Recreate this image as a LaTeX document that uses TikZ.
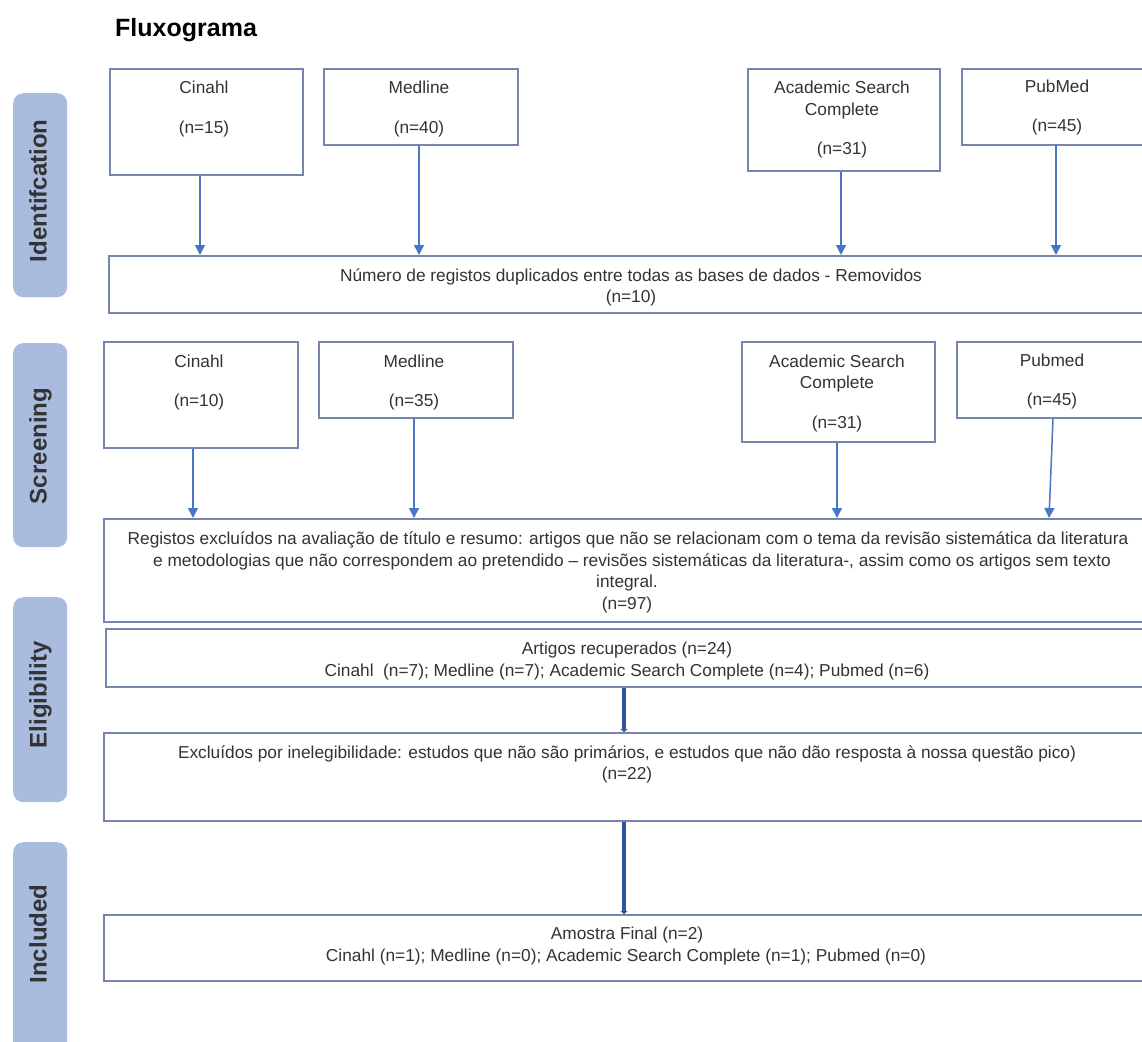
\documentclass[tikz,border=0pt]{standalone}
\usepackage{fontspec}
\setmainfont{Liberation Sans}
\usetikzlibrary{arrows.meta}
\definecolor{bordc}{HTML}{7585AD}
\definecolor{arrc}{HTML}{4A76C6}
\definecolor{thickc}{HTML}{2F5597}
\definecolor{sidec}{HTML}{A9BCE0}
\definecolor{txtc}{HTML}{333333}
\tikzset{
  box/.style={draw=bordc, line width=1.6pt, anchor=north west, inner sep=0pt, fill=white},
  lbl/.style={text=txtc, font=\fontsize{17.3}{20}\selectfont, inner sep=0pt, text height=12.4pt, text depth=0pt},
  side/.style={fill=sidec, rounded corners=10pt, draw=none, anchor=north west, inner sep=0pt, minimum width=54pt},
  sidetxt/.style={rotate=90, font=\bfseries\fontsize{24}{26}\selectfont, text=txtc, inner sep=0pt, text height=17.2pt, text depth=0pt},
  arr/.style={draw=arrc, line width=1.5pt, -{Triangle[width=10pt,length=10pt]}},
  bigarr/.style={draw=thickc, line width=4pt, -{Triangle[width=7pt,length=3pt]}}
}
\begin{document}
\begin{tikzpicture}[x=1pt,y=-1pt]
\useasboundingbox (0,0) rectangle (1142,1041);
\clip (0,0) rectangle (1142,1041);
\fill[white] (0,0) rectangle (1142,1041);

% title
\node[text=black, font=\bfseries\fontsize{25}{28}\selectfont, anchor=base west, inner sep=0pt] (title) at (115,37) {Fluxograma};

% side bars
\node[side, minimum height=204pt] (sI) at (13,93) {};
\node[side, minimum height=204pt] (sS) at (13,343) {};
\node[side, minimum height=205pt] (sE) at (13,597) {};
\node[side, minimum height=230pt] (sN) at (13,842) {};
\node[sidetxt] (tI) at (38,191) {Identifcation};
\node[sidetxt] (tS) at (38,446) {Screening};
\node[sidetxt] (tE) at (38,695) {Eligibility};
\node[sidetxt] (tN) at (38,934) {Included};

% identification row
\node[box, minimum width=193pt, minimum height=106pt] (c1) at (109,68) {};
\node[box, minimum width=194pt, minimum height=76pt] (m1) at (323,68) {};
\node[box, minimum width=192pt, minimum height=102pt] (a1) at (747,68) {};
\node[box, minimum width=250pt, minimum height=76pt] (p1) at (961,68) {};
\node[box, minimum width=1060pt, minimum height=57pt] (dup) at (108,255) {};

\node[lbl] (c1t) at (204,87) {Cinahl};
\node[lbl] (c1n) at (204,127) {(n=15)};
\node[lbl] (m1t) at (419,87) {Medline};
\node[lbl] (m1n) at (419,127) {(n=40)};
\node[lbl] (a1t) at (842,87) {Academic Search};
\node[lbl] (a1u) at (842,109) {Complete};
\node[lbl] (a1n) at (842,148) {(n=31)};
\node[lbl] (p1t) at (1057,86) {PubMed};
\node[lbl] (p1n) at (1057,125) {(n=45)};
\node[lbl] (dupt) at (631,275) {Número de registos duplicados entre todas as bases de dados - Removidos};
\node[lbl] (dupn) at (631,296) {(n=10)};

\coordinate (xc1) at (200,0);
\coordinate (xm1) at (419,0);
\coordinate (xa1) at (841,0);
\coordinate (xp1) at (1056,0);
\draw[arr] (c1.south -| xc1) -- (dup.north -| xc1);
\draw[arr] (m1.south -| xm1) -- (dup.north -| xm1);
\draw[arr] (a1.south -| xa1) -- (dup.north -| xa1);
\draw[arr] (p1.south -| xp1) -- (dup.north -| xp1);

% screening row
\node[box, minimum width=194pt, minimum height=106pt] (c2) at (103,341) {};
\node[box, minimum width=194pt, minimum height=76pt] (m2) at (318,341) {};
\node[box, minimum width=193pt, minimum height=100pt] (a2) at (741,341) {};
\node[box, minimum width=250pt, minimum height=76pt] (p2) at (956,341) {};
\node[box, minimum width=1065pt, minimum height=103pt] (reg) at (103,518) {};

\node[lbl] (c2t) at (199,361) {Cinahl};
\node[lbl] (c2n) at (199,400) {(n=10)};
\node[lbl] (m2t) at (414,361) {Medline};
\node[lbl] (m2n) at (414,400) {(n=35)};
\node[lbl] (a2t) at (837,361) {Academic Search};
\node[lbl] (a2u) at (837,382) {Complete};
\node[lbl] (a2n) at (837,422) {(n=31)};
\node[lbl] (p2t) at (1052,360) {Pubmed};
\node[lbl] (p2n) at (1052,399) {(n=45)};
\node[lbl] (reg1) at (628,538) {Registos excluídos na avaliação de título e resumo: artigos que não se relacionam com o tema da revisão sistemática da literatura};
\node[lbl] (reg2) at (632,560) {e metodologias que não correspondem ao pretendido – revisões sistemáticas da literatura-, assim como os artigos sem texto};
\node[lbl] (reg3) at (627,581) {integral.};
\node[lbl] (reg4) at (627,603) {(n=97)};

\coordinate (xc2) at (193,0);
\coordinate (xm2) at (414,0);
\coordinate (xa2) at (837,0);
\coordinate (xp2a) at (1053,0);
\coordinate (xp2b) at (1049,0);
\draw[arr] (c2.south -| xc2) -- (reg.north -| xc2);
\draw[arr] (m2.south -| xm2) -- (reg.north -| xm2);
\draw[arr] (a2.south -| xa2) -- (reg.north -| xa2);
\draw[arr] (p2.south -| xp2a) -- (reg.north -| xp2b);

% eligibility
\node[box, minimum width=1060pt, minimum height=58pt] (art) at (105,628) {};
\node[lbl] (art1) at (627,648) {Artigos recuperados (n=24)};
\node[lbl] (art2) at (627,670) {Cinahl\ \ (n=7); Medline (n=7); Academic Search Complete (n=4); Pubmed (n=6)};

\node[box, minimum width=1065pt, minimum height=88pt] (exc) at (103,732) {};
\node[lbl] (exc1) at (627,752) {Excluídos por inelegibilidade: estudos que não são primários, e estudos que não dão resposta à nossa questão pico)};
\node[lbl] (exc2) at (627,773) {(n=22)};

% included
\node[box, minimum width=1065pt, minimum height=66pt] (amo) at (103,914) {};
\node[lbl] (amo1) at (627,933) {Amostra Final (n=2)};
\node[lbl] (amo2) at (626,955) {Cinahl (n=1); Medline (n=0); Academic Search Complete (n=1); Pubmed (n=0)};

\coordinate (xt) at (624,0);
\draw[bigarr] (art.south -| xt) -- (exc.north -| xt);
\draw[bigarr] (exc.south -| xt) -- (amo.north -| xt);
\end{tikzpicture}
\end{document}
